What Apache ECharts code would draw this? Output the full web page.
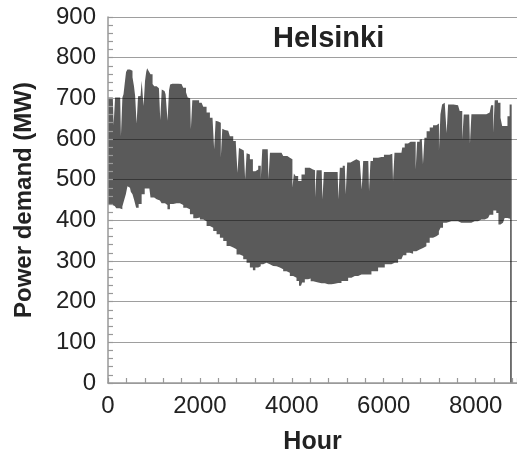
<!DOCTYPE html>
<html>
<head>
<meta charset="utf-8">
<script src="https://cdn.jsdelivr.net/npm/echarts@6/dist/echarts.min.js"></script>
<style>
html,body{margin:0;padding:0;background:#fff;}
#chart{width:517px;height:454px;}
</style>
</head>
<body>
<div id="chart"></div>
<script>
// ---- data (hour, MW) ----
var titleText = 'Helsinki';
var xTickLabels = [0, 2000, 4000, 6000, 8000];
var yTickLabels = [0, 100, 200, 300, 400, 500, 600, 700, 800, 900];

// upper envelope of hourly demand (daily maxima, incl. weekend/holiday dips)
var upperEnvelope = [
  [0,702],[105,702],[138,634],[170,702],[265,702],[297,607],[330,702],[345,710],[380,735],[406,765],
  [440,771],[478,771],[515,768],[551,752],[580,730],[602,705],[606,705],[638,638],[670,705],[696,706],
  [720,705],[745,743],[758,743],[790,681],[822,743],[840,765],[863,774],[900,768],[950,759],[990,735],
  [1022,730],[1095,728],[1121,725],[1153,647],[1185,722],[1230,718],[1276,710],[1280,710],[1312,645],[1344,720],
  [1360,734],[1400,736],[1529,736],[1600,735],[1674,726],[1720,715],[1747,702],[1787,700],[1819,624],[1851,695],
  [1928,695],[2037,689],[2109,679],[2181,665],[2254,652],[2294,648],[2326,575],[2358,645],[2399,643],[2439,640],
  [2471,554],[2503,625],[2544,622],[2616,620],[2689,607],[2761,595],[2802,590],[2834,517],[2866,578],[2906,575],
  [2955,572],[2968,568],[3000,501],[3032,565],[3051,562],[3124,550],[3182,521],[3232,525],[3305,534],[3309,534],
  [3341,501],[3373,575],[3413,575],[3476,575],[3508,501],[3540,566],[3776,566],[3848,558],[3957,554],[3997,550],
  [4029,480],[4061,515],[4102,509],[4174,497],[4247,513],[4319,529],[4355,529],[4428,525],[4490,523],[4522,456],
  [4554,523],[4650,523],[4682,452],[4714,519],[4863,519],[4997,519],[5029,452],[5061,529],[5153,534],[5157,534],
  [5189,464],[5221,542],[5334,546],[5406,550],[5479,546],[5505,546],[5537,476],[5569,546],[5664,546],[5696,472],
  [5728,546],[5805,554],[5950,556],[6059,561],[6186,564],[6218,497],[6250,566],[6385,566],[6421,579],[6493,589],
  [6566,593],[6602,593],[6679,593],[6711,525],[6743,593],[6819,598],[6838,600],[6870,538],[6902,603],[6964,619],
  [7037,628],[7109,634],[7182,638],[7186,638],[7218,572],[7250,661],[7290,685],[7327,689],[7353,689],[7385,615],
  [7417,685],[7617,683],[7689,669],[7693,669],[7725,599],[7757,660],[7860,660],[7892,589],[7924,661],[8232,661],
  [8305,665],[8367,683],[8399,615],[8431,695],[8450,695],[8522,689],[8559,652],[8595,632],[8667,632],[8718,656],
  [8761,685],[8784,685],[8790,0]
];

// lower envelope of hourly demand (daily minima)
var lowerEnvelope = [
  [0,439],[72,439],[145,435],[217,430],[290,427],[334,434],[370,450],[406,464],[440,484],[478,480],
  [515,470],[551,464],[587,450],[638,431],[696,440],[768,464],[830,478],[863,480],[900,478],[950,456],
  [1059,452],[1130,449],[1203,442],[1276,438],[1312,427],[1384,440],[1456,442],[1529,442],[1601,438],[1674,431],
  [1747,427],[1819,415],[1892,405],[1964,407],[2037,402],[2109,398],[2182,386],[2254,382],[2326,374],[2399,366],
  [2471,357],[2544,349],[2616,337],[2689,333],[2761,329],[2834,316],[2906,312],[2979,304],[3051,296],[3124,284],
  [3182,277],[3232,284],[3305,287],[3341,292],[3413,296],[3486,292],[3558,288],[3630,287],[3703,284],[3776,280],
  [3848,275],[3921,271],[3993,263],[4066,259],[4138,251],[4174,239],[4200,239],[4247,247],[4319,255],[4392,257],
  [4428,250],[4500,247],[4646,245],[4790,243],[4935,244],[5008,246],[5153,251],[5298,259],[5370,263],[5515,267],
  [5660,267],[5805,275],[5950,284],[6095,292],[6240,296],[6385,304],[6457,314],[6530,320],[6602,318],[6675,324],
  [6747,328],[6819,332],[6892,336],[6964,345],[7037,357],[7109,361],[7182,365],[7218,373],[7254,382],[7327,394],
  [7399,398],[7544,398],[7689,394],[7834,394],[7979,398],[8124,402],[8270,406],[8341,414],[8428,424],[8470,418],
  [8522,390],[8559,390],[8595,394],[8667,406],[8718,406],[8750,404]
];

var FONT = '"Liberation Sans", Arial, Helvetica, sans-serif';
var DARK = '#5a5a5a';

var chart = echarts.init(document.getElementById('chart'), null, {renderer: 'canvas'});
chart.setOption({
  animation: false,
  backgroundColor: '#ffffff',
  title: {
    text: titleText,
    left: 268,
    top: 19,
    textStyle: {fontFamily: FONT, fontSize: 29, fontWeight: 'bold', color: '#222'}
  },
  grid: {left: 108, right: 0, top: 17, bottom: 71, containLabel: false, outerBoundsMode: 'none'},
  xAxis: {
    type: 'value',
    min: 0,
    max: 8900,
    interval: 400,
    z: 5,
    name: 'Hour',
    nameLocation: 'middle',
    nameGap: 47,
    nameTextStyle: {fontFamily: FONT, fontSize: 25, fontWeight: 'bold', color: '#222'},
    axisLine: {show: true, lineStyle: {color: '#999', width: 1.5}},
    axisTick: {show: true, inside: true, length: 5, lineStyle: {color: '#999', width: 1.2}},
    axisLabel: {
      fontFamily: FONT, fontSize: 24, color: '#222', margin: 11,
      formatter: function (v) { return xTickLabels.indexOf(v) >= 0 ? String(v) : ''; }
    },
    splitLine: {show: false}
  },
  yAxis: {
    type: 'value',
    min: 0,
    max: 900,
    interval: 100,
    z: 5,
    name: 'Power demand (MW)',
    nameLocation: 'middle',
    nameGap: 72,
    nameTextStyle: {fontFamily: FONT, fontSize: 24, fontWeight: 'bold', color: '#222'},
    axisLine: {show: true, lineStyle: {color: '#999', width: 1.5}},
    axisTick: {show: true, inside: true, length: 5, lineStyle: {color: '#999', width: 1.2}},
    minorTick: {show: true, splitNumber: 5, length: 5, lineStyle: {color: '#999', width: 1.2}},
    axisLabel: {
      fontFamily: FONT, fontSize: 24, color: '#222', margin: 12,
      formatter: function (v) { return yTickLabels.indexOf(v) >= 0 ? String(v) : ''; }
    },
    splitLine: {show: true, lineStyle: {color: 'rgba(0,0,0,0.38)', width: 1.2}}
  },
  series: [
    {
      name: 'upper',
      type: 'line',
      data: upperEnvelope,
      step: 'middle',
      showSymbol: false,
      symbol: 'none',
      z: 2,
      lineStyle: {width: 0, color: DARK},
      areaStyle: {color: DARK, opacity: 1}
    },
    {
      name: 'lower',
      type: 'line',
      data: lowerEnvelope,
      step: 'middle',
      showSymbol: false,
      symbol: 'none',
      z: 3,
      lineStyle: {width: 0, color: '#fff'},
      areaStyle: {color: '#ffffff', opacity: 1}
    }
  ]
});
</script>
</body>
</html>
